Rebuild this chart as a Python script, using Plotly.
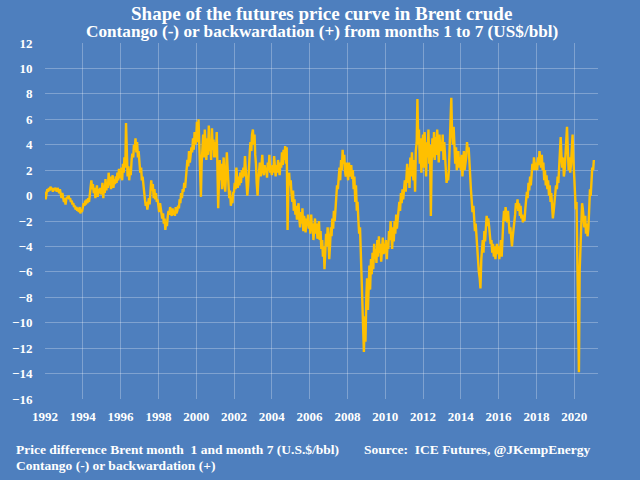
import plotly.graph_objects as go

# Semi-monthly readings (1st and 15th of each month), US$/bbl, month1 - month7
v1992 = [0.3, -0.3, 0.2, 0.5, 0.3, 0.6, 0.4, 0.7, 0.5, 0.6, 0.3, 0.6, 0.4, 0.6, 0.5, 0.3, 0.6, 0.4, 0.2, 0.5, 0.1, -0.2, 0.2, -0.3]
v1993 = [-0.5, -0.2, -0.7, -0.3, -0.1, -0.2, 0.0, -0.3, -0.2, -0.5, -0.4, -0.7, -0.6, -0.9, -0.8, -1.1, -0.9, -1.2, -1.0, -1.3, -0.9, -1.4, -1.1, -1.3]
v1994 = [-1.0, -0.6, -0.8, -0.4, -0.7, -0.3, -0.6, -0.2, -0.5, -0.1, 0.4, 1.2, 0.5, 0.9, 0.2, 0.6, -0.2, 0.4, 0.8, -0.1, 0.5, 0.2, 0.6, 0.1]
v1995 = [0.3, 1.0, -0.2, 0.8, 0.2, 1.3, 0.4, 1.0, 0.6, 1.8, 0.8, 1.5, 0.5, 1.2, 1.6, 0.6, 1.3, 0.9, 1.5, 1.0, 1.8, 1.2, 2.1, 1.4]
v1996 = [1.5, 2.2, 1.2, 2.5, 1.8, 3.0, 2.2, 5.7, 2.6, 1.5, 2.3, 1.2, 2.0, 1.6, 2.8, 3.3, 3.0, 4.0, 3.6, 4.5, 3.4, 4.2, 3.0, 3.5]
v1997 = [2.5, 1.8, 2.2, 1.2, 1.5, 0.8, 0.5, -0.3, -0.8, -0.5, -1.1, -0.6, -0.2, -0.7, 0.3, 1.2, 0.4, 0.9, -0.2, 0.5, -0.3, 0.2, -0.5, -0.3]
v1998 = [-0.8, -1.3, -0.6, -1.2, -1.5, -1.8, -1.4, -2.2, -1.8, -2.7, -2.0, -2.4, -1.6, -1.2, -1.5, -0.9, -1.3, -1.6, -1.0, -1.5, -1.2, -1.6, -0.9, -1.4]
v1999 = [-1.2, -0.8, -1.0, -0.3, -0.6, 0.2, -0.2, 0.5, 0.3, 1.0, 0.6, 1.5, 2.0, 2.8, 2.3, 3.5, 2.6, 3.2, 3.8, 3.4, 4.5, 3.6, 5.0, 4.0]
v2000 = [4.5, 5.8, 4.2, 6.0, 3.5, 2.0, -0.1, 2.5, 3.5, 4.8, 3.0, 5.2, 3.8, 2.8, 4.5, 3.2, 5.5, 3.5, 4.2, 2.8, 5.3, 3.6, 4.4, 3.0]
v2001 = [4.2, 3.0, 5.0, 2.5, -1.0, 1.0, 2.8, 1.2, 2.5, 0.5, 2.0, 3.0, 1.0, 0.3, 1.8, 3.4, 2.0, 0.5, -0.2, 0.4, -0.8, -0.4, -0.6, 0.2]
v2002 = [0.3, 1.0, 0.5, 2.2, 1.2, 0.6, 1.5, 0.8, 1.8, 1.0, 2.0, 1.4, 2.2, 1.5, 3.1, 1.8, 0.6, 0.0, 0.8, 2.5, 3.4, 4.2, 3.5, 4.8]
v2003 = [5.2, 4.0, 4.8, 3.2, 2.5, 1.0, 0.0, 1.2, 1.8, 2.6, 1.5, 2.2, 3.2, 2.0, 1.6, 2.4, 1.8, 2.2, 1.4, 2.6, 2.0, 3.2, 1.8, 2.3]
v2004 = [1.6, 2.4, 1.8, 3.1, 2.0, 1.5, 2.4, 1.8, 2.8, 2.0, 1.6, 2.6, 2.2, 3.4, 2.4, 3.6, 2.8, 3.9, 2.5, 3.8, -2.7, 0.5, 1.8, 0.8]
v2005 = [1.2, 0.2, -0.5, 0.4, -1.2, -0.3, -1.5, -0.8, -1.9, -1.2, -0.6, -1.8, -2.5, -1.3, -2.2, -1.0, -2.8, -1.6, -2.0, -2.9, -1.8, -2.4, -1.5, -2.6]
v2006 = [-2.0, -3.0, -1.5, -2.8, -2.2, -3.5, -2.5, -1.8, -3.0, -2.2, -3.4, -2.6, -2.0, -3.5, -2.8, -4.2, -3.5, -4.8, -4.0, -5.8, -4.5, -3.0, -4.0, -2.5]
v2007 = [-3.5, -5.0, -3.8, -2.5, -3.2, -1.8, -2.6, -1.2, -2.0, -1.0, -0.2, 0.8, 0.5, 1.5, 2.2, 1.2, 2.8, 2.0, 3.6, 2.5, 3.2, 2.0, 1.5, 2.6]
v2008 = [2.0, 1.2, 2.6, 1.5, 1.8, 2.4, 1.3, 2.0, 0.5, 1.5, -0.5, 0.8, -1.2, -0.5, -2.0, -3.0, -2.5, -4.5, -6.0, -8.0, -10.5, -12.3, -9.5, -11.5]
v2009 = [-8.0, -6.5, -9.0, -7.0, -5.5, -7.4, -5.0, -6.2, -4.5, -5.8, -3.8, -5.0, -4.2, -5.3, -3.5, -4.8, -3.2, -4.5, -3.8, -5.2, -4.0, -3.3, -4.6, -3.8]
v2010 = [-4.5, -3.5, -5.0, -3.8, -4.2, -2.8, -3.5, -2.0, -3.2, -4.2, -2.5, -3.6, -2.0, -3.0, -1.5, -2.6, -1.8, -1.3, -0.5, -1.2, 0.2, -0.6, 0.5, -0.3]
v2011 = [0.5, 1.2, 0.3, 1.8, 2.5, 1.0, 2.2, 0.6, 3.0, 1.5, 3.4, 2.0, 1.2, 2.8, 0.3, 3.5, 4.2, 7.6, 4.0, 5.2, 2.5, 4.5, 1.8, 3.5]
v2012 = [4.8, 2.2, 5.0, 3.5, 1.5, 4.2, 3.0, 5.2, 2.5, 4.0, -1.6, 2.5, 4.5, 3.0, 5.0, 2.8, 4.6, 3.2, 5.2, 4.0, 2.6, 4.8, 3.5, 4.2]
v2013 = [3.5, 4.8, 2.8, 4.2, 3.0, 1.8, 1.0, 1.6, 1.2, 2.0, 4.5, 6.0, 7.7, 5.0, 4.0, 5.4, 3.2, 2.5, 3.8, 2.0, 2.6, 3.5, 2.2, 3.0]
v2014 = [2.0, 3.2, 1.5, 2.8, 3.5, 2.0, 2.6, 3.0, 4.2, 3.5, 3.8, 2.5, 1.5, 0.5, -0.5, -1.3, -0.8, -2.0, -2.8, -2.2, -3.5, -4.0, -5.0, -6.0]
v2015 = [-6.5, -7.3, -5.0, -4.2, -3.5, -4.5, -2.8, -3.6, -2.0, -1.6, -2.4, -1.8, -2.4, -3.2, -3.8, -3.5, -4.5, -3.8, -4.8, -4.0, -5.0, -4.2, -3.8, -4.6]
v2016 = [-4.0, -5.0, -4.2, -3.5, -4.8, -3.0, -2.0, -1.2, -2.0, -0.9, -1.6, -2.1, -1.2, -2.4, -3.0, -2.5, -3.5, -4.0, -3.2, -2.8, -2.0, -1.5, -0.6, -1.0]
v2017 = [-0.3, -1.2, -0.6, -1.6, -0.8, -1.8, -1.5, -2.1, -1.6, -2.0, -1.0, -0.5, 0.3, -0.2, 1.0, 0.4, 1.5, 0.8, 1.8, 2.5, 2.0, 3.0, 2.4, 2.0]
v2018 = [2.6, 2.0, 3.0, 2.4, 3.5, 2.8, 2.2, 3.2, 2.0, 2.6, 1.2, 2.0, 0.8, 1.6, 0.5, 1.2, 0.0, 0.8, -0.5, 0.2, -1.0, -1.8, -1.2, -0.6]
v2019 = [0.0, 0.8, 0.5, 1.5, 1.0, 2.0, 2.8, 4.6, 3.0, 2.2, 3.0, 1.5, 2.0, 3.2, 4.5, 5.4, 3.5, 2.0, 3.0, 1.8, 2.5, 3.5, 4.8, 3.0]
v2020 = [1.3, 0.2, -1.1, -0.5, -4.0, -8.0, -13.9, -6.0, -4.3, -1.5, -0.6, -1.0, -1.8, -2.5, -1.6, -3.0, -2.2, -3.2, -2.6, -1.5, 0.5, 0.0, 1.5, 2.2]
v2021 = [2.0, 2.8]

years = list(range(1992, 2022))
year_values = [v1992, v1993, v1994, v1995, v1996, v1997, v1998, v1999, v2000, v2001,
               v2002, v2003, v2004, v2005, v2006, v2007, v2008, v2009, v2010, v2011,
               v2012, v2013, v2014, v2015, v2016, v2017, v2018, v2019, v2020, v2021]

tick_years = list(range(1992, 2021, 2))
y_ticks = list(range(-16, 13, 2))

dates, values = [], []
for yr, vals in zip(years, year_values):
    for i, v in enumerate(vals):
        month = i // 2 + 1
        day = 1 if i % 2 == 0 else 15
        dates.append(f"{yr}-{month:02d}-{day:02d}")
        values.append(v)

BG = "#4E7FBE"
GRID = "rgba(255,255,255,0.28)"
SERIF = "Liberation Serif"

fig = go.Figure()
fig.add_trace(go.Scatter(
    x=dates, y=values, mode="lines",
    line=dict(color="#FFC000", width=2.4),
    hoverinfo="skip", showlegend=False,
))

fig.update_layout(
    width=640, height=480,
    paper_bgcolor=BG, plot_bgcolor=BG,
    margin=dict(l=45, r=42, t=43, b=81),
    font=dict(family=SERIF, color="white", size=13, weight="bold"),
    xaxis=dict(
        type="date",
        range=["1992-01-01", "2021-04-05"],
        tickvals=[f"{y}-01-01" for y in tick_years],
        ticktext=[str(y) for y in tick_years],
        showgrid=True, gridcolor=GRID, gridwidth=1,
        zeroline=False, showline=False,
        ticks="outside", ticklen=5, tickcolor=BG,
        tickfont=dict(family=SERIF, size=13, color="white", weight="bold"),
    ),
    yaxis=dict(
        range=[-16, 12],
        tickvals=y_ticks,
        showgrid=True, gridcolor=GRID, gridwidth=1,
        zeroline=False, showline=False,
        ticks="outside", ticklen=9, tickcolor=BG,
        tickfont=dict(family=SERIF, size=13, color="white", weight="bold"),
    ),
    annotations=[
        dict(text="Shape of the futures price curve in Brent crude",
             xref="paper", yref="paper", x=0.5, y=1.084, xanchor="center", yanchor="middle",
             showarrow=False, font=dict(family=SERIF, size=19, color="white", weight="bold")),
        dict(text="Contango (-) or backwardation (+) from months 1 to 7 (US$/bbl)",
             xref="paper", yref="paper", x=0.5, y=1.031, xanchor="center", yanchor="middle",
             showarrow=False, font=dict(family=SERIF, size=17.2, color="white", weight="bold")),
        dict(text="Price difference Brent month  1 and month 7 (U.S.$/bbl)",
             xref="paper", yref="paper", x=-0.056, y=-0.143, xanchor="left", yanchor="middle",
             showarrow=False, font=dict(family=SERIF, size=13.5, color="white", weight="bold")),
        dict(text="Source:  ICE Futures, @JKempEnergy",
             xref="paper", yref="paper", x=0.573, y=-0.143, xanchor="left", yanchor="middle",
             showarrow=False, font=dict(family=SERIF, size=13.5, color="white", weight="bold")),
        dict(text="Contango (-) or backwardation (+)",
             xref="paper", yref="paper", x=-0.056, y=-0.188, xanchor="left", yanchor="middle",
             showarrow=False, font=dict(family=SERIF, size=13.5, color="white", weight="bold")),
    ],
)

fig.write_html(
    "out.html",
    config={"displayModeBar": False, "staticPlot": True},
    post_script="document.body.style.margin='0';document.body.style.overflow='hidden';",
)
